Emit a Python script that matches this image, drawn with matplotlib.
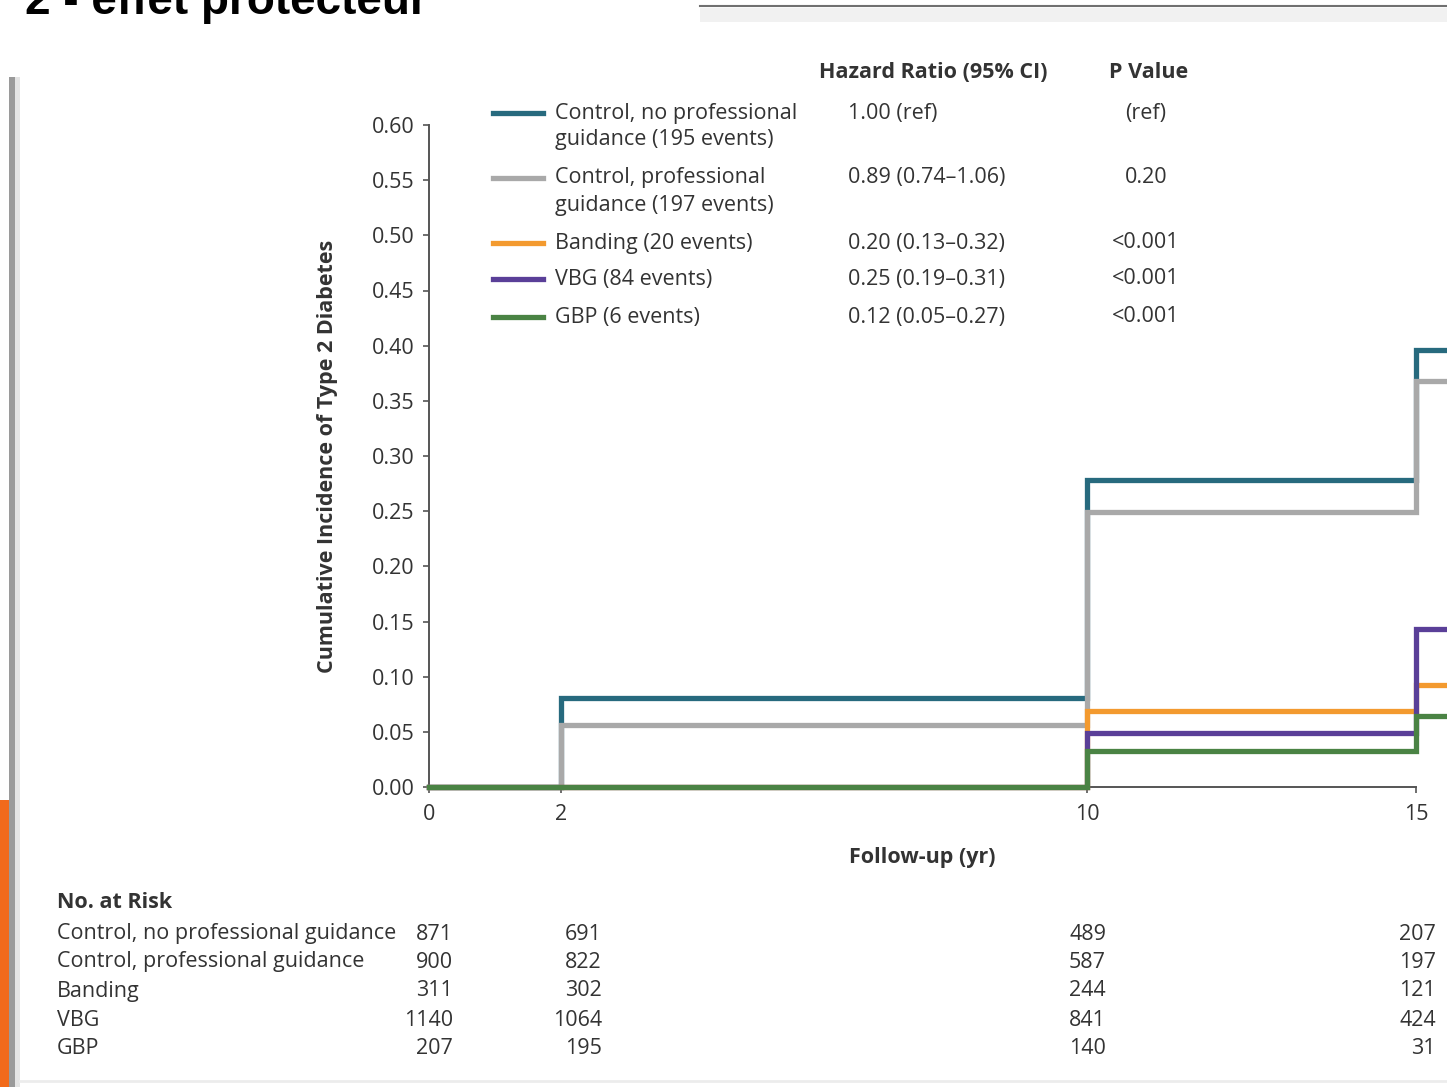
import numpy as np
import matplotlib
matplotlib.use("Agg")
import matplotlib.pyplot as plt
from matplotlib.lines import Line2D
from matplotlib.patches import Rectangle

# data
years = [0, 2, 10, 15]
groups = ["Control, no professional guidance", "Control, professional guidance",
          "Banding", "VBG", "GBP"]
legend_labels = ["Control, no professional\nguidance (195 events)",
                 "Control, professional\nguidance (197 events)",
                 "Banding (20 events)", "VBG (84 events)", "GBP (6 events)"]
ctrl_no = [0.0, 0.081, 0.278, 0.396]
ctrl_pro = [0.0, 0.056, 0.249, 0.368]
banding = [0.0, 0.0, 0.069, 0.092]
vbg = [0.0, 0.0, 0.049, 0.143]
gbp = [0.0, 0.0, 0.033, 0.064]
hazard = ["1.00 (ref)", "0.89 (0.74\u20131.06)", "0.20 (0.13\u20130.32)",
          "0.25 (0.19\u20130.31)", "0.12 (0.05\u20130.27)"]
pvals = ["(ref)", "0.20", "<0.001", "<0.001", "<0.001"]
at_risk = [[871, 691, 489, 207],
           [900, 822, 587, 197],
           [311, 302, 244, 121],
           [1140, 1064, 841, 424],
           [207, 195, 140, 31]]

colors = ["#276a7e", "#a9a9a9", "#f39a2f", "#5a3f98", "#4a8344"]
series = [ctrl_no, ctrl_pro, banding, vbg, gbp]

W, H = 1447, 1087
def fx(px):
    return px / W
def fy(py):
    return 1 - py / H

plt.rcParams['font.family'] = ['Open Sans', 'DejaVu Sans']
txt = "#333333"
fs = 15.5

fig = plt.figure(figsize=(W / 100, H / 100), dpi=100)
fig.patch.set_facecolor("white")

# slide decorations (title is cut by the top edge, as in the screenshot)
fig.text(fx(25), fy(14), "2 - effet protecteur", fontsize=33, fontweight='bold',
         family='Liberation Sans', va='baseline', ha='left', color='black')
fig.add_artist(Rectangle((fx(700), fy(22)), fx(W) - fx(700), fy(8) - fy(22),
                         transform=fig.transFigure, color="#f1f1f1", lw=0))
fig.add_artist(Line2D([fx(700), 1], [fy(6), fy(6)], transform=fig.transFigure,
                      color="#707070", lw=1.5))
fig.add_artist(Rectangle((fx(9), 0), fx(6), fy(77), transform=fig.transFigure,
                         color="#9a9a9a", lw=0))
fig.add_artist(Rectangle((fx(15), 0), fx(5), fy(77), transform=fig.transFigure,
                         color="#e4e4e4", lw=0))
fig.add_artist(Rectangle((0, 0), fx(9), fy(800), transform=fig.transFigure,
                         color="#f26a1b", lw=0))
fig.add_artist(Line2D([fx(20), 1], [fy(1081), fy(1081)], transform=fig.transFigure,
                      color="#ececec", lw=2))

# plot area: x=0 at 429 px, x=15 at 1416 px; y=0 at 787 px, y=0.6 at 125 px
px_per_yr = (1416 - 429) / 15
xmax = (W - 429) / px_per_yr
ax = fig.add_axes([fx(429), fy(787), fx(W) - fx(429), fy(125) - fy(787)])
ax.set_xlim(0, xmax)
ax.set_ylim(0, 0.6)
ax.patch.set_alpha(0)

for vals, c in zip(series, colors):
    ax.step(years + [xmax + 1], vals + [vals[-1]], where='post', color=c,
            lw=3.8, clip_on=False, zorder=5, solid_joinstyle='miter')

for s in ['top', 'right']:
    ax.spines[s].set_visible(False)
ax.spines['left'].set_bounds(0, 0.6)
ax.spines['bottom'].set_bounds(0, 15)
for s in ['left', 'bottom']:
    ax.spines[s].set_color("#555555")
    ax.spines[s].set_linewidth(1.4)

ax.set_yticks(np.arange(0, 0.601, 0.05))
ax.set_yticklabels([f"{v:.2f}" for v in np.arange(0, 0.601, 0.05)])
ax.set_xticks(years)
ax.tick_params(axis='both', direction='out', length=4.5, width=1.2, color="#555555",
               labelsize=fs, labelcolor=txt)
ax.tick_params(axis='y', pad=6)
ax.tick_params(axis='x', pad=8)

fig.text(fx(328), fy(456), "Cumulative Incidence of Type 2 Diabetes", rotation=90,
         fontsize=fs, fontweight='bold', color=txt, ha='center', va='center')
fig.text(fx(922), fy(858), "Follow-up (yr)", fontsize=fs, fontweight='bold',
         color=txt, ha='center', va='center')

# legend with hazard ratios
fig.text(fx(933), fy(73), "Hazard Ratio (95% CI)", fontsize=fs, fontweight='bold',
         color=txt, ha='center', va='center')
fig.text(fx(1149), fy(73), "P Value", fontsize=fs, fontweight='bold',
         color=txt, ha='center', va='center')
row_y = [113, 178, 243, 279, 317]
for i, (lab, c) in enumerate(zip(legend_labels, colors)):
    y = row_y[i]
    fig.add_artist(Line2D([fx(493), fx(543)], [fy(y), fy(y)], transform=fig.transFigure,
                          color=c, lw=3.8))
    for k, part in enumerate(lab.split("\n")):
        fig.text(fx(555), fy(y + 27 * k), part, fontsize=fs, color=txt,
                 ha='left', va='center')
    fig.text(fx(848), fy(y), hazard[i], fontsize=fs, color=txt, ha='left', va='center')
    fig.text(fx(1146), fy(y), pvals[i], fontsize=fs, color=txt, ha='center', va='center')

# number at risk table
fig.text(fx(57), fy(902), "No. at Risk", fontsize=fs, fontweight='bold', color=txt,
         ha='left', va='center')
col_right = [453, 602, 1106, 1436]
risk_y = [934, 962, 991, 1020, 1048]
for i, g in enumerate(groups):
    fig.text(fx(57), fy(risk_y[i]), g, fontsize=fs, color=txt, ha='left', va='center')
    for j, n in enumerate(at_risk[i]):
        fig.text(fx(col_right[j]), fy(risk_y[i]), str(n), fontsize=fs, color=txt,
                 ha='right', va='center')

fig.savefig("out.png", dpi=100)
